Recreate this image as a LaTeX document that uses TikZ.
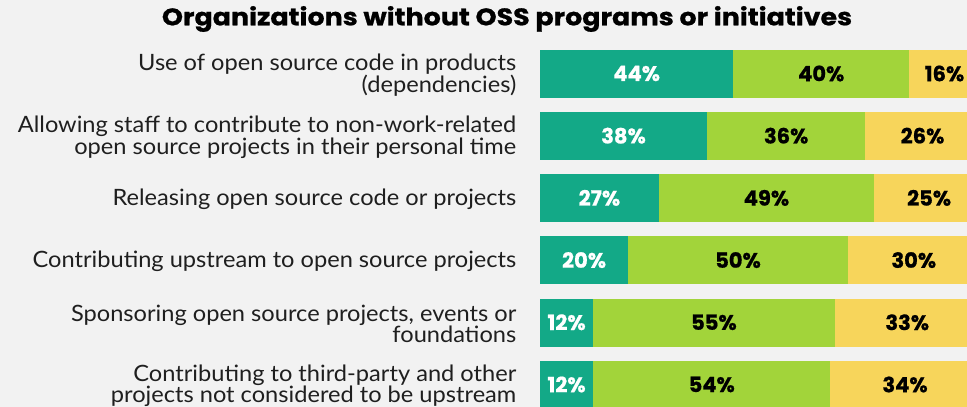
\documentclass[tikz,border=0pt]{standalone}
\usepackage{fontspec}
\setmainfont[FakeStretch=1.05]{Lato}
\newfontfamily\barfont[BoldFeatures={FakeBold=0.8}]{Poppins}
\newfontfamily\titlefont[FakeStretch=1.12,BoldFeatures={FakeBold=0.8}]{Poppins}
\usetikzlibrary{positioning}
\definecolor{ossteal}{HTML}{13A987}
\definecolor{ossgreen}{HTML}{A2D43A}
\definecolor{ossyellow}{HTML}{F7D55B}
\definecolor{ossbg}{HTML}{F2F2F2}
\tikzset{
  seg/.style={rectangle,anchor=west,inner sep=0pt,minimum height=47pt,line width=0.6pt,
    font=\barfont\bfseries\fontsize{21}{21}\selectfont},
  catlabel/.style={anchor=east,align=right,inner sep=0pt,
    font=\fontsize{22.5}{21.5}\selectfont,text=black!88}
}
\begin{document}
\begin{tikzpicture}[x=1pt,y=-1pt]
  \fill[ossbg] (0,0) rectangle (967,407);
  \useasboundingbox (0,0) rectangle (967,407);
  \clip (0,0) rectangle (967,407);
  \node (title) at (507,19) {\titlefont\bfseries\fontsize{24}{24}\selectfont Organizations without OSS programs or initiatives};
  % one row per activity: index / teal / green / yellow / label
  \foreach \i/\a/\b/\c/\txt in {
      0/44/40/16/{Use of open source code in products\\(dependencies)},
      1/38/36/26/{Allowing staff to contribute to non-work-related\\open source projects in their personal time},
      2/27/49/25/{Releasing open source code or projects},
      3/20/50/30/{Contributing upstream to open source projects},
      4/12/55/33/{Sponsoring open source projects, events or\\foundations},
      5/12/54/34/{Contributing to third-party and other\\projects not considered to be upstream}} {
    \node [seg,fill=ossteal,draw=ossteal,text=white,minimum width={\a*4.38pt}] (t\i) at (540,73.5+62.2*\i) {\a\%};
    \node [seg,fill=ossgreen,draw=ossgreen,minimum width={\b*4.38pt},right=0pt of t\i] (g\i) {\b\%};
    \node [seg,fill=ossyellow,draw=ossyellow,minimum width={\c*4.38pt},right=0pt of g\i] (y\i) {\c\%};
    \node [catlabel] (lab\i) at (516.5,75+62.2*\i) {\txt};
  }
\end{tikzpicture}
\end{document}
